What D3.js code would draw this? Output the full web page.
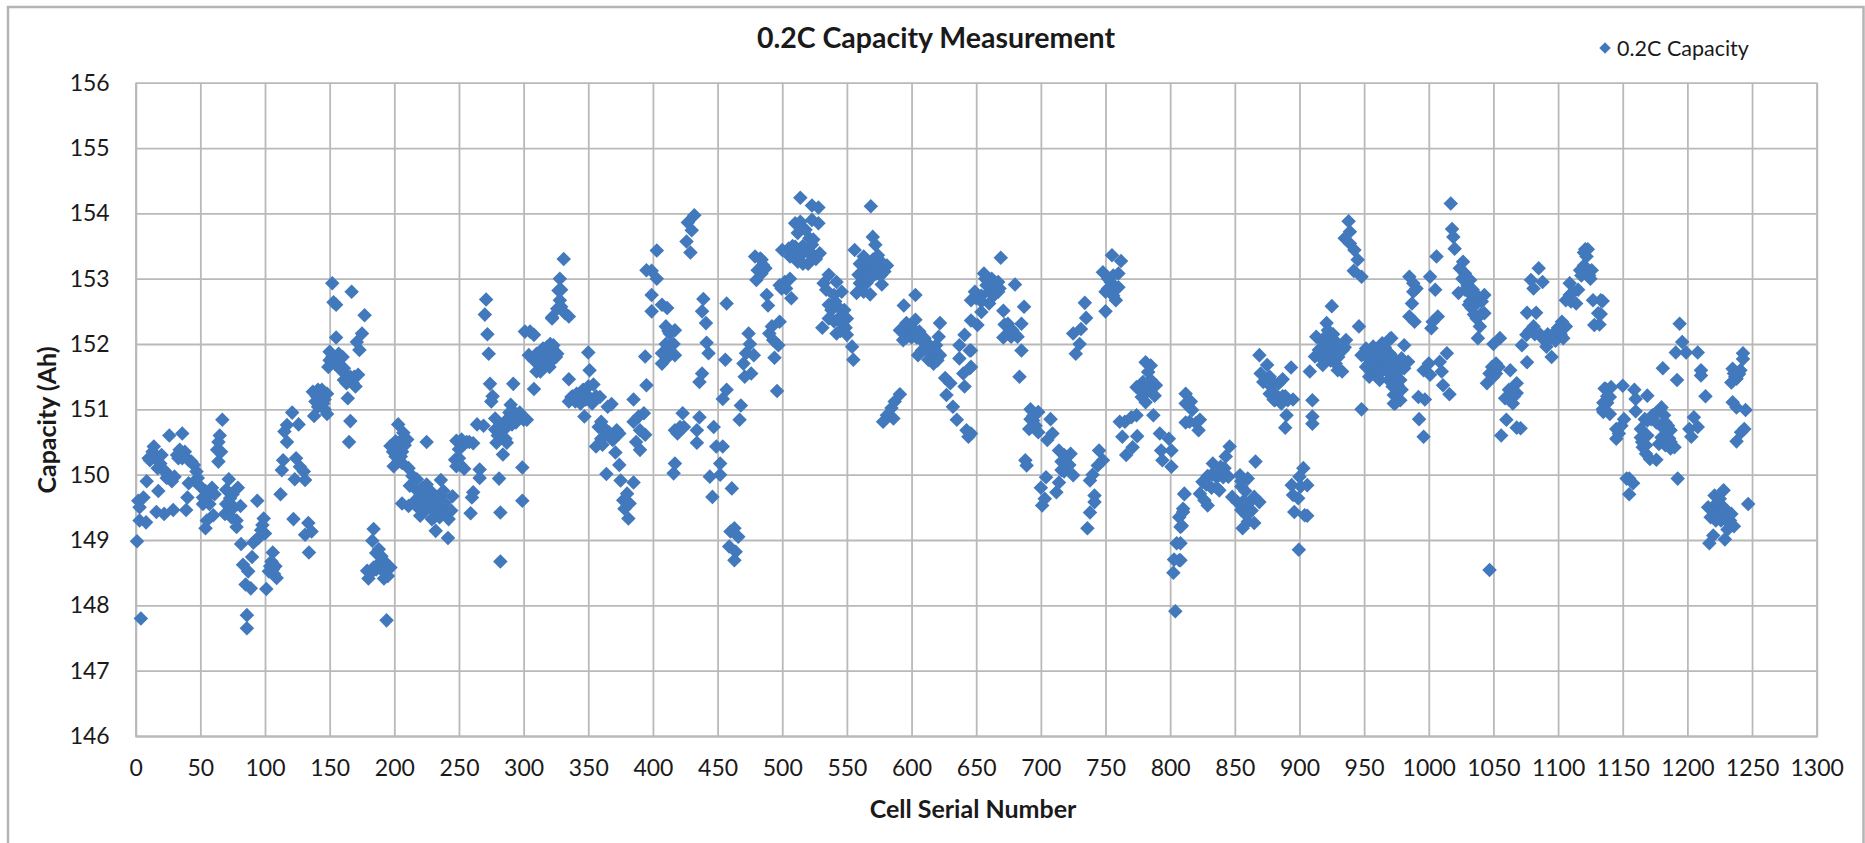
<!DOCTYPE html>
<html>
<head>
<meta charset="utf-8">
<title>0.2C Capacity Measurement</title>
<script src="https://cdnjs.cloudflare.com/ajax/libs/d3/7.8.5/d3.min.js"></script>
<style>
	html,body{margin:0;padding:0;background:#fff;overflow:hidden;}
	text{font-family:Lato,"Open Sans",sans-serif;fill:#1a1a1a;}
</style>
</head>
<body>
<div id="chart"></div>
<script>
var xTicks = d3.range(0,1301,50);
var yTicks = [146,147,148,149,150,151,152,153,154,155,156];

// [cell serial, capacity], one list per stretch of the x axis
var cells0 = [[1,148.98],[4,147.8],[86,147.85],[86,147.65],[14,150.43],[26,150.6],[36,150.63],[8.5,149.9],[17.5,149.75],[6,149.65],[2,149.6],[3,149.5],[3,149.3],[8,149.27],[16,149.43],[22,149.4],[29,149.46],[40,149.65],[39,149.46],[41,149.87],[11,150.22],[15,150.28],[20,150.3],[19,150.17],[21.5,150.07],[25,150],[28,149.9],[30,149.97],[34,150.38],[38,150.35],[33,150.25],[41,150.22],[45,150.15],[47,150.05],[48,149.95],[50,149.82],[54,149.75],[59,149.8],[56,149.67],[52,149.55],[67,150.84],[65,150.6],[64,150.5],[63,150.38],[66,150.35],[64,150.2],[72,149.93],[79,149.8],[70,149.77],[73,149.64],[81,149.52],[73,149.49],[69,149.4],[78,149.3],[78,149.2],[60,149.38],[55,149.3],[54,149.18],[94,149.6],[99,149.33],[98,149.23],[100,149.1],[95,149.03],[91,148.96],[81.5,148.94],[106,148.81],[105,148.67],[108,148.6],[103,148.52],[109,148.42],[101,148.25],[90,148.74],[83,148.62],[87,148.52],[85,148.32],[89,148.26],[112,149.7],[122,149.32],[133.5,149.26],[136,149.13],[131,149.08],[134,148.81],[114,150.22],[113,150.07],[124,150.25],[127,150.12],[130,150.05],[123,149.93],[131,149.92],[121,150.95],[126,150.77],[117,150.76],[115,150.66],[117,150.5],[141,151.3],[137,151.27],[148,151.24],[143,151.17],[139,151.12],[145,151.09],[141,151.04],[138,150.9],[148,150.93],[152,152.93],[153,152.64],[155,152.6],[155,152.1],[150,151.88],[157,151.85],[150,151.75],[158,151.78],[149,151.65],[167,152.8],[177,152.44],[175,152.16],[171,152.03],[173,151.91],[164,151.17],[166,150.82],[165,150.5],[160,151.8],[161,151.63],[161,151.45],[166,151.5],[172,151.53],[170,151.35],[184,149.17],[183,148.99],[188,148.86],[192,148.68],[197,148.58],[187,148.58],[179,148.53],[180,148.41],[192,148.41],[189,148.66],[184,148.58],[194,147.77]];

var cells200 = [[203,150.77],[207,150.64],[210,150.54],[201,150.51],[197,150.44],[203,150.41],[201,150.28],[205,150.28],[199.5,150.13],[206,150.18],[225,150.5],[211,150.1],[214,149.98],[217.5,149.93],[212,149.83],[236,149.92],[206,149.56],[211,149.52],[216,149.6],[220,149.68],[225,149.85],[228,149.75],[223,149.62],[220,149.37],[224,149.45],[230,149.57],[236,149.67],[245,149.67],[239,149.57],[233,149.42],[242,149.32],[229,149.32],[236,149.47],[232,149.14],[241.5,149.03],[252,150.54],[248,150.52],[261,150.48],[250,150.39],[247,150.23],[248,150.13],[254,150.09],[264,150.77],[269,150.75],[271,152.68],[270,152.45],[272,152.15],[273,151.85],[274,151.39],[276,151.2],[275,151.12],[292,151.39],[308,151.31],[266,150.08],[266,149.95],[261,149.73],[260,149.65],[259,149.41],[281,149.94],[282,149.42],[299,150.11],[299,149.6],[282,148.67],[278,150.86],[278,150.69],[285,150.69],[282,150.59],[279,150.49],[287,150.49],[284,150.31],[290,151.07],[292,150.97],[295,150.89],[300,150.84],[287,150.84],[291,150.77],[302.5,150.84],[305,152.19],[301,152.19],[308,152.14],[320.6,152],[315,151.93],[323,151.9],[312,151.83],[304,151.83],[318,151.8],[313,151.58],[310,151.58],[317,151.68],[326,151.85],[322,152.39],[326,152.54],[327,152.82],[328,153],[331,153.3],[329,152.83],[328,152.67],[329,152.57],[332,152.47],[335,152.42],[322,152.41],[323,151.98],[324,151.83],[322,151.76]];

var cells350 = [[350,151.87],[351,151.6],[335,151.46],[354,151.38],[350,151.35],[346,151.3],[341,151.24],[337,151.19],[335,151.12],[340,151.12],[344,151.09],[353,151.09],[359,151.19],[347,150.89],[368,151.08],[365,151.04],[360,150.81],[358,150.73],[363,150.68],[372,150.68],[374,150.63],[369,150.53],[356,150.43],[361,150.46],[371,150.34],[374,150.15],[364,150.01],[375,149.91],[385,149.88],[380,149.71],[377,149.61],[382,149.56],[378,149.48],[381,149.33],[385,151.15],[395,151.37],[394,151.81],[389,150.89],[393,150.94],[385,150.81],[390,150.68],[394,150.61],[387,150.5],[390,150.38],[403,153.43],[399,153.12],[395,153.13],[403,153],[399,152.75],[407,152.6],[411,152.55],[399,152.5],[410,152.27],[417,152.21],[413,152.16],[414,151.98],[407,151.86],[417,151.83],[412,151.81],[407,151.7],[432,153.97],[427,153.86],[430,153.74],[426,153.57],[429,153.4],[439,152.69],[438,152.5],[441,152.32],[441.5,152.02],[443,151.86],[438,151.55],[436,151.42],[457,152.62],[456,151.76],[457,151.3],[454,151.16],[468,151.06],[467,150.84],[470,151.7],[471,151.5],[476,151.55],[474,152.16],[475,152],[478,151.83],[472,151.86],[423,150.94],[421,150.73],[417,150.68],[424,150.73],[419,150.63],[436,150.88],[434,150.68],[434,150.49],[447,150.73],[449,150.43],[454,150.43],[452,150.17],[452,150],[444,149.97],[446,149.66],[461,149.79],[417,150.17],[416,150.02],[463,149.18],[460,149.13],[466,149.05],[459,148.9],[464,148.82],[463,148.69],[483,153.31],[479,153.34],[485,153.21],[481,153.13],[480,152.98]];

var cells500 = [[514,154.24],[523,154.12],[528,154.09],[514,153.87],[510,153.85],[523,153.9],[528,153.85],[512,153.7],[521,153.62],[523,153.52],[520,153.41],[529,153.39],[516,153.39],[500,153.44],[505,153.46],[510,153.49],[506,153.34],[516,153.23],[520,153.23],[512,153.26],[502,152.95],[506,153],[499.5,152.85],[507,152.7],[488,152.75],[489,152.59],[498,152.34],[492,152.27],[490,152.16],[493,152.06],[497,151.98],[494,151.79],[496,151.28],[484,153.29],[487,153.16],[484,153.08],[568.5,154.11],[570,153.64],[572,153.52],[556,153.44],[563,153.34],[574,153.36],[560,153.23],[578,153.23],[565,153.23],[570,153.29],[581,153.2],[579,153.11],[559,153.06],[573,153.08],[568,153.18],[560,152.93],[577,152.91],[565,152.93],[557.5,152.78],[568,152.76],[563,152.8],[536,153.06],[532,152.93],[542,152.95],[534,152.83],[546,152.8],[541,152.65],[538,152.52],[536,152.39],[548,152.52],[550,152.39],[545,152.42],[531,152.25],[542,152.16],[547,152.29],[550,152.14],[554,151.96],[555,151.76]];

var cells590 = [[603,152.75],[594,152.59],[591,152.21],[596,152.32],[603,152.37],[593.5,152.06],[598,152.19],[606,152.19],[610,152.09],[605,151.83],[614,151.98],[613,151.76],[617,151.7],[622,151.83],[619,151.98],[622,152.32],[621,152.11],[641,152.14],[637,151.98],[645,151.9],[637,151.78],[645,151.63],[640,151.55],[641,151.35],[626,151.48],[630,151.4],[627,151.22],[632,151.04],[635,150.84],[642.5,150.68],[644,150.58],[591,151.23],[587,151.12],[584.5,151.02],[581,150.91],[586,150.86],[578,150.81],[669,153.32],[656,153.08],[662,153],[667,152.95],[680,152.91],[667,152.8],[649,152.8],[654,152.74],[646,152.67],[660,152.62],[654,152.49],[671,152.51],[687,152.57],[646,152.36],[651,152.29],[674.5,152.31],[685,152.31],[678,152.21],[671,152.1],[677,152.11],[682,152.11],[685,151.9],[683.5,151.5],[646,151.9],[646,151.65],[646,150.63]];

var cells690 = [[692,151],[698,150.96],[694,150.83],[691,150.7],[698,150.65],[707.5,150.85],[709,150.63],[705,150.53],[688,150.22],[689,150.14],[714,150.37],[720,150.27],[723,150.32],[716,150.07],[720,150.17],[725,149.99],[704,149.96],[700,149.8],[714,149.88],[712,149.73],[703,149.63],[701,149.53],[734,152.63],[735,152.4],[731,152.23],[725,152.16],[730,152],[727,151.85],[755,153.36],[762,153.27],[748,153.1],[760,153.08],[754,152.95],[760,152.87],[750,152.8],[756,152.74],[758,152.67],[750,152.5],[745,150.37],[748,150.22],[744,150.14],[740,150],[738,149.91],[741.5,149.68],[741.5,149.58],[738,149.42],[736,149.18],[781,151.72],[785,151.67],[783,151.57],[779,151.42],[774,151.34],[789,151.37],[778,151.19],[788,151.21],[781,151.11],[787,150.91],[765,150.81],[770,150.88],[774,150.91],[761,150.81],[763,150.58],[774.5,150.59],[771,150.42],[766,150.3],[792,150.63],[799,150.55],[793,150.37],[801,150.37],[794,150.22],[801,150.12],[811,149.7],[810,149.48],[807,149.35],[809,149.22],[805,148.95],[803,148.7],[807,148.69],[802.5,148.5],[804,147.91],[812,151.24],[812,151.09],[812,150.8]];

var cells810 = [[816,151.12],[817,150.99],[823,150.84],[815,150.81],[820,150.79],[822,150.68],[811,149.71],[810,149.43],[808,149.2],[808,148.95],[808,148.69],[846,150.43],[843,150.28],[833,150.17],[839,150.12],[829,149.98],[836,149.96],[841,149.96],[825,149.89],[823,149.71],[826.5,149.61],[829,149.53],[838,149.76],[845,149.97],[866,150.2],[860,149.94],[854,149.99],[855,149.82],[848,149.66],[852,149.58],[865,149.66],[869,149.58],[855,149.46],[859,149.38],[865,149.26],[856,149.18],[860,149.28],[869,151.83],[875,151.68],[870,151.55],[872,151.42],[877,151.5],[887,151.46],[893.5,151.64],[877,151.24],[881,151.14],[886,151.09],[895,151.15],[891,151.14],[890,150.91],[889,150.72],[881,151.24],[908,151.58],[910,151.14],[910,150.89],[910,150.78],[903,150.1],[900,149.97],[894,149.84],[906,149.84],[901,149.82],[895,149.69],[899,149.64],[896,149.43],[904,149.38],[906,149.37],[899.5,148.85]];

var cells930 = [[938,153.88],[939,153.72],[935,153.62],[939,153.54],[942.5,153.44],[945,153.29],[942,153.12],[948,153.03],[925,152.58],[921,152.32],[922,152.21],[913,152.11],[919,152.09],[936,152.06],[928,152.04],[923,151.96],[915,151.91],[933.5,151.91],[912,151.81],[921,151.81],[918,151.68],[928,151.7],[933,151.58],[929.6,151.6],[946,152.27],[948,151],[970,152.08],[964,152.01],[957,151.96],[951.5,151.93],[948,151.83],[959,151.85],[967,151.83],[972,151.8],[951.5,151.65],[959,151.7],[967,151.6],[954,151.5],[962,151.45],[972,151.55],[975,151.4],[973,151.22],[973,151.09],[971,152.09],[981,151.98],[979,151.78],[984,151.73],[981,151.63],[976,151.37],[979,151.3],[975,151.22],[978,151.14],[974,151.09]];

var cells985 = [[1017,154.15],[1047,148.54],[1018,153.76],[1019,153.64],[1020,153.46],[1006,153.34],[1001,153.03],[1005,152.83],[985,153.03],[988,152.93],[990.5,152.85],[988,152.8],[987,152.62],[985,152.42],[989,152.34],[1026.5,153.26],[1024,153.16],[1028,153.08],[1032,152.98],[1023,152.78],[1028,152.83],[1034,152.83],[1043,152.75],[1032,152.65],[1041,152.65],[1033,152.55],[1043,152.47],[1037,152.39],[1039.5,152.27],[1038,152.09],[1007,152.42],[1003,152.34],[1002,152.24],[1014,151.86],[1008.5,151.73],[1000,151.7],[996,151.6],[1001,151.53],[1010,151.58],[1011,151.37],[1016,151.23],[992,151.19],[997,151.15],[992.5,150.85],[996,150.58],[1055,152.09],[1050,152],[1085,153.16],[1079,152.98],[1088,152.95],[1081,152.85],[1052,151.7],[1047,151.55],[1052,151.55],[1045,151.4],[1063,151.6],[1068,151.4],[1065,151.3],[1059,151.17],[1065,151.09],[1060,150.84],[1056,150.6],[1068,150.72],[1071,150.71],[1076,151.72],[1072,151.98],[1075.5,152.14],[1081,152.27],[1083,152.48],[1076,152.48],[1088,152.09],[1094,152.09],[1091,151.96],[1095,151.8],[1099,152.2],[1104,152.09],[1103,152.34],[1106,152.27]];

var cells1105 = [[1121,153.45],[1122,153.34],[1117,153.13],[1126,153.13],[1125,153],[1109,152.93],[1115.5,152.83],[1106,152.67],[1114,152.62],[1127,152.67],[1133,152.67],[1131,152.47],[1128,152.29],[1136,151.32],[1137,151.09],[1135,150.96],[1134.5,152.66],[1133,152.46],[1132,152.3],[1194,152.31],[1196,152.03],[1191,151.87],[1199,151.87],[1208,151.87],[1181,151.63],[1192,151.45],[1210.5,151.6],[1210.5,151.52],[1214,151.2],[1243,151.86],[1243,151.77],[1235,151.62],[1240,151.54],[1238,151.47],[1234,151.41],[1235,151.11],[1238,151.03],[1245,150.99],[1205,150.88],[1208,150.73],[1201.5,150.7],[1203,150.58],[1244,150.7],[1241.5,150.65],[1238,150.51],[1141,151.34],[1137,151.31],[1150,151.36],[1140,151.19],[1134.5,151],[1140,150.93],[1159,151.3],[1160,151.16],[1169,151.21],[1160,150.97],[1151,150.85],[1149,150.75],[1145,150.7],[1147,150.63],[1145,150.55],[1180,151.03],[1173,150.91],[1182,150.91],[1169,150.83],[1185,150.75],[1187,150.68],[1164,150.7],[1164,150.57],[1180,150.57],[1185,150.57],[1165.5,150.42],[1178,150.47],[1190,150.42],[1168,150.32],[1187,150.4],[1176,150.23],[1171,150.24],[1155,149.94],[1158,149.87],[1155,149.7],[1153,149.94],[1192.5,149.94],[1228,149.76],[1221,149.68],[1225,149.63],[1216,149.5],[1221,149.43],[1231,149.43],[1225,149.35],[1234,149.4],[1222,149.3],[1247,149.55],[1236,149.21],[1231,149.16],[1229,149.01],[1220,149.07],[1217,148.95]];

// points inside the solid blobs, where single markers overlap and can only be estimated
var cellsPacked = [[10,150.25],[13,150.35],[24,149.95],[27,149.95],[32,150.3],[36,150.25],[43,150.2],[46,149.9],[52,149.65],[57,149.55],[61,149.7],[17,150.1],[23,150.05],[75,149.7],[76,149.5],[74,149.35],[70,149.55],[106,148.55],[104,148.6],[107,148.48],[93,149],[97,149.15],[143,151.25],[146,151],[140,151.2],[144,151.3],[146,151.15],[152,151.8],[154,151.7],[156,151.75],[159,151.6],[162,151.55],[169,151.5],[168,151.4],[163,151.4],[186,148.55],[190,148.55],[194,148.55],[182,148.5],[186,148.8],[190,148.75],[195,148.45],[204,150.5],[206,150.35],[199,150.35],[203,150.2],[208,150.45],[218,149.75],[222,149.8],[226,149.7],[232,149.65],[234,149.5],[238,149.75],[227,149.5],[231,149.35],[222,149.5],[218,149.5],[240,149.45],[235,149.35],[244,149.45],[253,150.45],[256,150.5],[250,150.25],[251,150.15],[258,150.5],[283,150.75],[286,150.8],[289,150.95],[294,150.8],[280,150.6],[286,150.55],[297,150.95],[290,150.85],[293,150.92],[310,151.85],[312,151.7],[316,151.75],[318,151.95],[322,151.95],[325,151.8],[308,151.75],[320,151.65],[314,151.65],[322,151.75],[316,151.85],[345,151.2],[348,151.15],[343,151.15],[338,151.2],[350,151.2],[356,151.2],[362,150.72],[366,150.65],[368,150.55],[360,150.55],[412,152.2],[410,152],[416,152],[412,151.9],[508,153.5],[512,153.4],[516,153.5],[524,153.6],[526,153.3],[518,153.75],[522,153.4],[498,152.9],[503,152.85],[540,152.75],[544,152.55],[540,152.35],[545,152.2],[549,152.25],[536,152.6],[562,153.1],[566,153.1],[570,153.1],[574,153.15],[562,152.95],[572,153.2],[568,153],[576,153.05],[600,152.25],[604,152.1],[608,152.05],[612,151.9],[608,151.9],[616,151.85],[600,152.1],[596,152.1],[611,152],[603,152.2],[618,151.8],[620,151.75],[650,152.7],[654,152.65],[658,152.9],[660,152.8],[664,152.9],[657,153],[664,152.75],[660,152.95],[668,152.85],[672,152.3],[676,152.2],[680,152.15],[694,150.9],[696,150.75],[692,150.85],[718,150.3],[722,150.15],[718,150.05],[716,150.2],[752,153],[757,152.85],[752,152.85],[756,153.05],[780,151.35],[783,151.3],[777,151.3],[785,151.45],[832,150],[835,150.05],[838,150],[828,149.85],[832,149.8],[840,150.05],[836,149.8],[842,150.1],[858,149.75],[860,149.55],[863,149.45],[857,149.6],[855,149.9],[880,151.4],[884,151.4],[878,151.35],[875,151.45],[880,151.15],[889,151.2],[887,151.2],[918,151.95],[921,151.95],[925,152],[930,151.95],[926,151.85],[916,151.8],[924,151.75],[935,151.95],[930,151.8],[926,152.15],[917,152.05],[953,151.8],[956,151.8],[960,151.9],[963,151.75],[954,151.7],[958,151.6],[964,151.65],[969,151.7],[970,151.85],[962,151.55],[957,151.85],[966,151.95],[952,151.8],[975,151.7],[975,151.55],[978,151.45],[972,151.35],[969,151.45],[975,151.3],[1026,153],[1030,152.9],[1033,152.75],[1036,152.6],[1035,152.45],[1040,152.45],[1029,153],[1031,152.6],[1037,152.75],[1050,151.5],[1054,151.65],[1049,151.65],[1062,151.3],[1066,151.2],[1062,151.15],[1068,151.25],[1090,152.05],[1096,152.15],[1098,152.05],[1102,152.15],[1092,152.15],[1100,152.25],[1086,152.15],[1078,152.2],[1082,152.15],[1120,153.4],[1123,153.45],[1118,153.05],[1124,153.05],[1120,153.2],[1112,152.8],[1109,152.75],[1110,152.65],[1138,151.1],[1138,151.2],[1135,151.1],[1167,150.85],[1172,150.85],[1176,150.8],[1180,150.75],[1183,150.8],[1186,150.55],[1183,150.45],[1165,150.5],[1176,150.95],[1169,150.6],[1168,150.45],[1187,150.5],[1182,150.7],[1226,149.45],[1222,149.55],[1228,149.5],[1230,149.3],[1218,149.35],[1226,149.3],[1233,149.3],[1237,151.5],[1241,151.6],[1236,151.55]];

var cells = [].concat(cells0,cells200,cells350,cells500,cells590,cells690,cells810,cells930,cells985,cells1105,cellsPacked);

var width = 1865, height = 843;
var margin = {left:135.7, right:48.3, top:82.7, bottom:107};
var plotW = width-margin.left-margin.right, plotH = height-margin.top-margin.bottom;
var pointColor = "#4279bd", gridColor = "#b9b9b9";

var svg = d3.select("#chart").append("svg")
	.attr("width",width)
	.attr("height",height)
	.style("display","block");

// outer frame, open at the bottom like the cropped original
svg.append("path")
	.attr("d","M8,843V7H1863.5V843")
	.attr("fill","none")
	.attr("stroke","#b4b4b4")
	.attr("stroke-width",2.5);

var x = d3.scaleLinear().domain([0,1300]).range([0,plotW]);
var y = d3.scaleLinear().domain([146,156]).range([plotH,0]);

var plot = svg.append("g").attr("transform","translate("+margin.left+","+margin.top+")");

var xAxis = plot.append("g")
	.attr("transform","translate(0,"+plotH+")")
	.call(d3.axisBottom(x).tickValues(xTicks).tickSize(-plotH).tickPadding(24).tickFormat(d3.format("d")));
var yAxis = plot.append("g")
	.call(d3.axisLeft(y).tickValues(yTicks).tickSize(0).tickPadding(26).tickFormat(d3.format("d")));
yAxis.selectAll(".tick line").attr("x2",plotW);

plot.selectAll(".domain").attr("stroke",gridColor).attr("stroke-width",1.8);
plot.selectAll(".tick line").attr("stroke",gridColor).attr("stroke-width",1.8);
plot.selectAll(".tick text").style("font-size","23px").attr("fill","#1a1a1a");

plot.append("g").selectAll("path")
	.data(cells)
	.enter()
	.append("path")
	.attr("d",d3.symbol().type(d3.symbolDiamond2).size(135))
	.attr("transform",function(d){return "translate("+x(d[0])+","+y(d[1])+")";})
	.attr("fill",pointColor);

svg.append("text")
	.attr("x",936).attr("y",48)
	.attr("text-anchor","middle")
	.style("font-size","28.5px").style("font-weight","700")
	.text("0.2C Capacity Measurement");

svg.append("text")
	.attr("x",973).attr("y",818)
	.attr("text-anchor","middle")
	.style("font-size","25px").style("font-weight","700")
	.text("Cell Serial Number");

svg.append("text")
	.attr("transform","translate(56,420) rotate(-90)")
	.attr("text-anchor","middle")
	.style("font-size","25px").style("font-weight","700")
	.text("Capacity (Ah)");

// legend
svg.append("path")
	.attr("d",d3.symbol().type(d3.symbolDiamond2).size(85))
	.attr("transform","translate(1605,48)")
	.attr("fill",pointColor);
svg.append("text")
	.attr("x",1617).attr("y",55.5)
	.style("font-size","21.5px")
	.text("0.2C Capacity");
</script>
</body>
</html>
